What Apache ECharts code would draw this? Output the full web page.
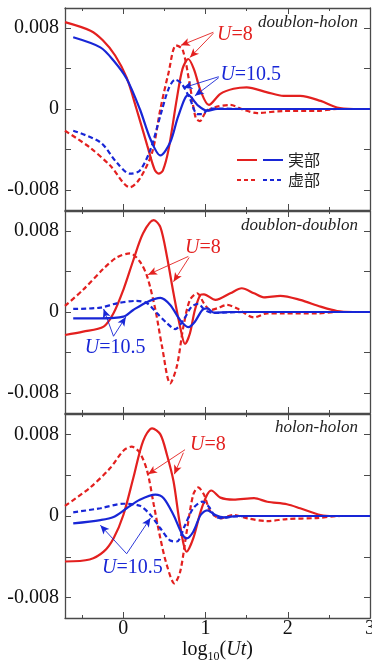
<!DOCTYPE html>
<html>
<head>
<meta charset="utf-8">
<script src="https://cdn.jsdelivr.net/npm/echarts@6/dist/echarts.min.js"></script>
<style>
html,body{margin:0;padding:0;background:#fff;}
#main{width:372px;height:660px;}
</style>
</head>
<body>
<div id="main"></div>
<script>
// ---- data: [log10(Ut), value] ----
const xTicksMajor = [0, 1, 2, 3];
const xTicksMinor = [-0.5, 0.5, 1.5, 2.5];
const yTickLabels = [-0.008, 0, 0.008];
const yTicks = [-0.008, -0.004, 0, 0.004, 0.008];
const panelNames = ['doublon-holon', 'doublon-doublon', 'holon-holon'];
const legendNames = ['実部', '虚部'];

// doublon-holon
const dhReal8 = [[-0.71,0.0086],[-0.40,0.00775],[-0.25,0.0068],[-0.10,0.0053],[0.04,0.0031],[0.16,0.0],[0.29,-0.0036],[0.38,-0.0060],[0.43,-0.0064],[0.48,-0.0061],[0.55,-0.0040],[0.65,0.0010],[0.72,0.0040],[0.79,0.00495],[0.86,0.0039],[0.94,0.0018],[1.04,0.0004],[1.18,0.0015],[1.34,0.0020],[1.50,0.00215],[1.75,0.00165],[1.95,0.0013],[2.15,0.0013],[2.40,0.0008],[2.60,0.00015],[2.80,0]];
const dhImag8 = [[-0.71,-0.00215],[-0.41,-0.0038],[-0.16,-0.0056],[0.08,-0.00775],[0.20,-0.0069],[0.35,-0.0043],[0.45,0],[0.55,0.0036],[0.64,0.0063],[0.72,0.0059],[0.81,0.0023],[0.88,-0.0009],[0.93,-0.0012],[1.0,-0.00033],[1.10,0.00015],[1.30,0.0004],[1.46,-0.00007],[1.63,-0.0004],[1.95,-0.0002],[2.35,-0.0002],[2.6,0],[2.8,0]];
const dhReal105 = [[-0.61,0.0071],[-0.28,0.0061],[-0.12,0.0048],[0.04,0.0030],[0.20,0],[0.33,-0.0030],[0.45,-0.0046],[0.57,-0.0033],[0.67,-0.00066],[0.79,0.0014],[0.91,0.00033],[1.02,-0.00017],[1.14,0],[1.5,0],[2,0],[2.5,0],[3,0]];
const dhImag105 = [[-0.61,-0.00215],[-0.28,-0.0033],[-0.08,-0.0053],[0.08,-0.0064],[0.20,-0.0061],[0.33,-0.0040],[0.45,-0.00066],[0.55,0.0020],[0.63,0.0029],[0.71,0.0025],[0.81,0.0010],[0.90,-0.0005],[0.96,-0.0005],[1.04,0],[1.14,0.00005],[1.5,0],[2,0],[2.5,0],[3,0]];

// doublon-doublon
const ddReal8 = [[-0.71,-0.00228],[-0.49,-0.00195],[-0.24,-0.00145],[-0.12,-0.00013],[0.0,0.0022],[0.12,0.0051],[0.24,0.0078],[0.37,0.0091],[0.45,0.0084],[0.53,0.0055],[0.61,0.00185],[0.69,-0.00145],[0.75,-0.00317],[0.81,-0.0021],[0.87,0.0002],[0.94,0.0017],[0.98,0.00175],[1.12,0.0012],[1.30,0.00185],[1.44,0.00235],[1.59,0.00185],[1.71,0.00145],[1.91,0.0016],[2.15,0.0012],[2.40,0.00053],[2.6,0.0001],[2.8,0]];
const ddImag8 = [[-0.71,0.0006],[-0.49,0.0022],[-0.24,0.0043],[-0.08,0.0054],[0.08,0.0058],[0.20,0.0050],[0.29,0.0035],[0.39,0.0002],[0.47,-0.0034],[0.57,-0.00706],[0.65,-0.0054],[0.73,-0.00145],[0.81,0.0012],[0.90,0.00185],[0.98,0.00086],[1.06,0.0002],[1.14,0.00036],[1.26,0.0007],[1.38,0.00036],[1.59,-0.00053],[1.75,-0.00013],[1.95,-0.00015],[2.35,-0.00015],[2.6,0],[2.8,0]];
const ddReal105 = [[-0.61,-0.00063],[-0.28,-0.00063],[0.0,-0.00046],[0.12,0.0002],[0.29,0.0010],[0.45,0.0014],[0.57,0.0007],[0.69,-0.0008],[0.79,-0.0015],[0.87,-0.00096],[0.96,0.0002],[1.02,0.00036],[1.10,-0.00006],[1.3,0],[2,0],[2.5,0],[3,0]];
const ddImag105 = [[-0.61,0.0003],[-0.28,0.00043],[-0.08,0.00086],[0.16,0.0011],[0.29,0.00086],[0.41,-0.00013],[0.53,-0.0011],[0.63,-0.0017],[0.73,-0.0008],[0.83,0.00053],[0.91,0.0008],[0.99,0.0002],[1.10,-0.0001],[1.25,-0.00005],[1.5,0],[2,0],[2.5,0],[3,0]];

// holon-holon
const hhReal8 = [[-0.71,-0.00446],[-0.41,-0.00426],[-0.24,-0.0035],[-0.12,-0.0022],[0.0,0.0001],[0.12,0.0037],[0.24,0.00735],[0.35,0.0086],[0.45,0.0080],[0.53,0.0060],[0.61,0.0034],[0.69,-0.0009],[0.77,-0.0035],[0.85,-0.0022],[0.94,0.00043],[1.02,0.0021],[1.07,0.0025],[1.18,0.0018],[1.34,0.0016],[1.59,0.00175],[1.75,0.0014],[1.99,0.00115],[2.15,0.00076],[2.40,0.0001],[2.56,0],[2.8,0]];
const hhImag8 = [[-0.71,0.0010],[-0.41,0.00275],[-0.16,0.0047],[0.0,0.0064],[0.10,0.0068],[0.20,0.0062],[0.29,0.0044],[0.37,0.0011],[0.45,-0.0022],[0.53,-0.00485],[0.62,-0.0066],[0.69,-0.0055],[0.77,-0.00155],[0.85,0.0021],[0.91,0.0028],[0.98,0.0021],[1.06,0.00043],[1.18,-0.00023],[1.34,0.0001],[1.51,-0.00023],[1.75,-0.0005],[1.99,-0.0003],[2.35,-0.0002],[2.64,0],[2.8,0]];
const hhReal105 = [[-0.61,-0.00073],[-0.28,-0.0004],[-0.12,-0.0001],[0.04,0.00076],[0.20,0.0016],[0.39,0.0021],[0.49,0.00175],[0.61,0.0001],[0.71,-0.0017],[0.77,-0.0022],[0.85,-0.00155],[0.94,0.0001],[1.02,0.00056],[1.12,0.0001],[1.22,-0.00013],[1.4,0],[2,0],[2.5,0],[3,0]];
const hhImag105 = [[-0.61,0.00036],[-0.28,0.00076],[0.0,0.0012],[0.20,0.0010],[0.33,0.0001],[0.45,-0.0012],[0.57,-0.0024],[0.65,-0.0025],[0.75,-0.0009],[0.85,0.00076],[0.96,0.0014],[1.04,0.0009],[1.12,-0.00007],[1.22,-0.0002],[1.34,-0.00005],[1.6,0],[2,0],[2.5,0],[3,0]];

// annotations (data coords): label anchor and arrows [from, to]
const annU8 = [
  {label:[1.14,0.0074], arrows:[[[1.095,0.0076],[0.70,0.0063]],[[1.095,0.0075],[0.81,0.0051]]]},
  {label:[0.75,0.0064], arrows:[[[0.79,0.0055],[0.30,0.0037]],[[0.80,0.0054],[0.61,0.0030]]]},
  {label:[0.81,0.0070], arrows:[[[0.75,0.0065],[0.30,0.0041]],[[0.73,0.0062],[0.62,0.0041]]]}
];
const annU105 = [
  {label:[1.18,0.0034], arrows:[[[1.16,0.0032],[0.73,0.0021]],[[1.16,0.0031],[0.87,0.0013]]]},
  {label:[-0.47,-0.0035], arrows:[[[-0.12,-0.0024],[-0.24,0.0003]],[[-0.12,-0.0024],[0.03,-0.0005]]]},
  {label:[-0.26,-0.0051], arrows:[[[0.04,-0.0037],[-0.28,-0.0009]],[[0.04,-0.0037],[0.33,-0.0002]]]}
];

const RED = '#e3201f';
const BLUE = '#1826d6';
const AXIS = '#4a4a4a';
const SERIF = '"Liberation Serif","Times New Roman",serif';

const panels = [
  [dhReal8, dhImag8, dhReal105, dhImag105],
  [ddReal8, ddImag8, ddReal105, ddImag105],
  [hhReal8, hhImag8, hhReal105, hhImag105]
];
const grids = [
  {left:65, top:8, width:305, height:202, containLabel:false, outerBoundsMode:'none'},
  {left:65, top:211, width:305, height:202, containLabel:false, outerBoundsMode:'none'},
  {left:65, top:414, width:305, height:204, containLabel:false, outerBoundsMode:'none'}
];

const xAxes = [], yAxes = [], series = [];
grids.forEach((g, i) => {
  const base = {
    type:'value', gridIndex:i, min:-0.71, max:3,
    splitLine:{show:false},
    axisLine:{show:true, onZero:false, lineStyle:{color:AXIS, width:1.3}},
  };
  const hidden = {show:false, onZero:false};
  // bottom major (series axis)
  xAxes.push(Object.assign({}, base, {
    position:'bottom',
    axisTick:{show:true, inside:true, length:6, customValues:xTicksMajor, lineStyle:{color:AXIS}},
    axisLabel:{show:i===2, customValues:xTicksMajor, margin:1, color:'#111', fontFamily:SERIF, fontSize:20},
    name: i===2 ? '{a|log}{s|10}{a|(}{i|Ut}{a|)}' : '',
    nameLocation:'middle', nameGap:17,
    nameTextStyle:{rich:{
      a:{fontFamily:SERIF, fontSize:20, color:'#111'},
      s:{fontFamily:SERIF, fontSize:12, color:'#111', padding:[14,0,0,0]},
      i:{fontFamily:SERIF, fontSize:20, fontStyle:'italic', color:'#111'}
    }}
  }));
  // bottom minor
  xAxes.push(Object.assign({}, base, {
    position:'bottom', axisLine:hidden,
    axisTick:{show:true, inside:true, length:3, customValues:xTicksMinor, lineStyle:{color:AXIS}},
    axisLabel:{show:false}
  }));
  // top major
  xAxes.push(Object.assign({}, base, {
    position:'top',
    axisTick:{show:true, inside:true, length:6, customValues:xTicksMajor, lineStyle:{color:AXIS}},
    axisLabel:{show:false}
  }));
  // top minor
  xAxes.push(Object.assign({}, base, {
    position:'top', axisLine:hidden,
    axisTick:{show:true, inside:true, length:3, customValues:xTicksMinor, lineStyle:{color:AXIS}},
    axisLabel:{show:false}
  }));
  const ybase = {
    type:'value', gridIndex:i, min:-0.01, max:0.01,
    splitLine:{show:false},
    axisLine:{show:true, onZero:false, lineStyle:{color:AXIS, width:1.3}},
    axisTick:{show:true, inside:true, length:6, customValues:yTicks, lineStyle:{color:AXIS}}
  };
  yAxes.push(Object.assign({}, ybase, {
    position:'left',
    axisLabel:{show:true, customValues:yTickLabels, margin:6, color:'#111', fontFamily:SERIF, fontSize:20,
      formatter: v => Math.abs(v) < 1e-9 ? '0' : v.toFixed(3)}
  }));
  yAxes.push(Object.assign({}, ybase, {position:'right', axisLabel:{show:false}}));

  const styles = [
    {c:RED, t:'solid'}, {c:RED, t:[5,3]}, {c:BLUE, t:'solid'}, {c:BLUE, t:[5,3]}
  ];
  panels[i].forEach((d, k) => {
    const s = {
      type:'line', xAxisIndex:i*4, yAxisIndex:i*2, data:d,
      smooth:0.3, showSymbol:false, symbol:'none', silent:true,
      lineStyle:{color:styles[k].c, width:2.2, type:styles[k].t},
      z: k>=2 ? 3 : 2
    };
    if (k === 0 || k === 2) {
      const ann = (k === 0 ? annU8 : annU105)[i];
      const col = styles[k].c;
      s.markLine = {
        silent:true, animation:false,
        symbol:['none','arrow'], symbolSize:[6,9],
        label:{show:false},
        lineStyle:{color:col, width:0.9, type:'solid'},
        data: ann.arrows.map(a => [{coord:a[0]}, {coord:a[1]}])
      };
      s.markPoint = {
        silent:true, animation:false,
        symbol:'circle', symbolSize:0,
        data:[{coord:ann.label}],
        label:{show:true, position:'right', distance:0,
          formatter: k === 0 ? '{i|U}{n|=8}' : '{i|U}{n|=10.5}',
          rich:{
            i:{fontFamily:SERIF, fontStyle:'italic', fontSize:20, color:col},
            n:{fontFamily:SERIF, fontSize:20, color:col}
          }}
      };
    }
    series.push(s);
  });
});

const graphics = [];
const labelTops = [22, 225, 427];
panelNames.forEach((n, i) => {
  graphics.push({type:'text', right:14, top:labelTops[i]-8,
    style:{text:n, font:'italic 17px "Liberation Serif", serif', fill:'#222'}});
});
// legend
[[160,'solid'],[180,'dashed']].forEach((r, j) => {
  const dash = r[1] === 'dashed' ? [4,3] : null;
  graphics.push({type:'line', shape:{x1:237,y1:r[0],x2:257,y2:r[0]}, style:{stroke:RED, lineWidth:2, lineDash:dash}});
  graphics.push({type:'line', shape:{x1:263,y1:r[0],x2:283,y2:r[0]}, style:{stroke:BLUE, lineWidth:2, lineDash:dash}});
  graphics.push({type:'text', x:288, y:r[0], style:{text:legendNames[j], font:'16px "Noto Sans CJK JP", sans-serif', fill:'#222', verticalAlign:'middle'}});
});

const chart = echarts.init(document.getElementById('main'));
chart.setOption({
  animation:false,
  grid:grids,
  xAxis:xAxes,
  yAxis:yAxes,
  series:series,
  graphic:graphics
});
</script>
</body>
</html>
